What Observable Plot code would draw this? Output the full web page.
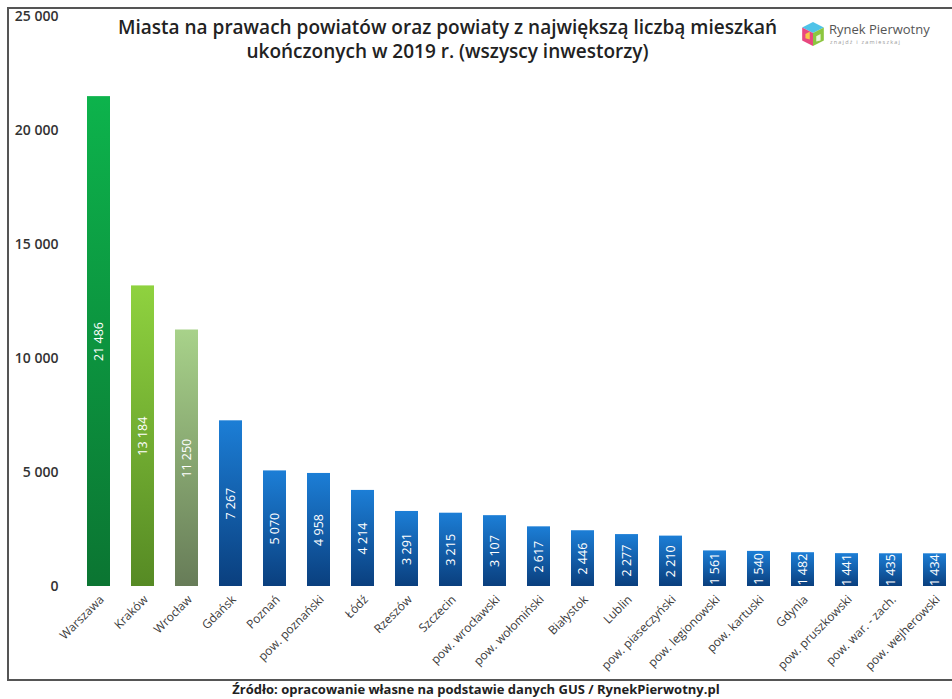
<!DOCTYPE html>
<html lang="pl">
<head>
<meta charset="utf-8">
<script src="https://cdn.jsdelivr.net/npm/d3@7"></script>
<script src="https://cdn.jsdelivr.net/npm/@observablehq/plot@0.6"></script>
<style>
  html, body { margin: 0; padding: 0; background: #fff; overflow: hidden; }
  #wrap { position: relative; width: 952px; height: 699px; font-family: "Open Sans", sans-serif; }
  #wrap svg.chart { position: absolute; left: 0; top: 0; }
  #border { position: absolute; left: 7px; top: 7px; width: 960px; height: 674px; border: 2px solid #555; border-right: none; box-sizing: border-box; }
  .title { position: absolute; left: 0; width: 895px; text-align: center; font-size: 19px; font-weight: 600; line-height: 24px; color: #222; white-space: nowrap; }
  #title1 { top: 15px; }
  #title2 { top: 39px; }
  #caption { position: absolute; left: 0; top: 681px; width: 952px; text-align: center; font-size: 13px; font-weight: 700; line-height: 17px; color: #222; }
  #logo { position: absolute; left: 801px; top: 20px; width: 150px; height: 30px; }
  #logo .name { position: absolute; left: 28px; top: 0px; font-size: 13px; color: #555; white-space: nowrap; }
  #logo .sub { position: absolute; left: 29px; top: 18px; font-size: 5.5px; color: #999; letter-spacing: 1.2px; white-space: nowrap; }
</style>
</head>
<body>
<div id="wrap">
  <div id="border"></div>
  <div class="title" id="title1">Miasta na prawach powiatów oraz powiaty z największą liczbą mieszkań</div>
  <div class="title" id="title2">ukończonych w 2019 r. (wszyscy inwestorzy)</div>
  <div id="logo">
    <svg width="24" height="26" viewBox="0 0 22 24" style="position:absolute;left:0;top:1px">
      <polygon points="11,1 21,6 11,11 1,6" fill="#4fc3e8"/>
      <polygon points="1,6 11,11 11,23 1,18" fill="#e8487f"/>
      <polygon points="11,11 21,6 21,18 11,23" fill="#8cc63f"/>
      <polygon points="4,12 8,10 8,17 4,16" fill="#f7c948"/>
      <polygon points="14,14 18,12 18,18 14,19" fill="#ffffff" opacity="0.8"/>
    </svg>
    <div class="name">Rynek Pierwotny</div>
    <div class="sub">znajdź i zamieszkaj</div>
  </div>
  <div id="caption">Źródło: opracowanie własne na podstawie danych GUS / RynekPierwotny.pl</div>
</div>
<script>
// ---- data ----
const categories = ["Warszawa", "Kraków", "Wrocław", "Gdańsk", "Poznań", "pow. poznański", "Łódź", "Rzeszów", "Szczecin", "pow. wrocławski", "pow. wołomiński", "Białystok", "Lublin", "pow. piaseczyński", "pow. legionowski", "pow. kartuski", "Gdynia", "pow. pruszkowski", "pow. war. - zach.", "pow. wejherowski"];
const values = [21486, 13184, 11250, 7267, 5070, 4958, 4214, 3291, 3215, 3107, 2617, 2446, 2277, 2210, 1561, 1540, 1482, 1441, 1435, 1434];
const barGroups = ["g1", "g2", "g3", "blue", "blue", "blue", "blue", "blue", "blue", "blue", "blue", "blue", "blue", "blue", "blue", "blue", "blue", "blue", "blue", "blue"];
const yTicks = [0, 5000, 10000, 15000, 20000, 25000];

const gradients = {
  g1: ["#0db34c", "#0b7532"],
  g2: ["#8fd23f", "#568a24"],
  g3: ["#a8d28a", "#677c58"],
  blue: ["#1c7ed6", "#0a3f7e"]
};

const locale = d3.formatLocale({decimal: ",", thousands: " ", grouping: [3], currency: ["", " zł"]});
const fmt = locale.format(",d");

const data = categories.map((name, i) => ({name, value: values[i], grad: barGroups[i]}));

const chart = Plot.plot({
  width: 952,
  height: 699,
  marginTop: 16,
  marginBottom: 113,
  marginLeft: 62,
  marginRight: 0,
  style: {fontFamily: "Open Sans, sans-serif", background: "transparent", overflow: "visible"},
  x: {domain: categories, range: [74.4, 958.6], paddingInner: 0.48, paddingOuter: 0.24, axis: null},
  y: {domain: [0, 25000], axis: null},
  color: {type: "identity"},
  marks: [
    Plot.axisY({ticks: yTicks, tickFormat: fmt, tickSize: 0, tickPadding: 4, fontSize: 14, fontWeight: 600, fill: "#333", label: null}),
    Plot.barY(data, {x: "name", y: "value", fill: d => `url(#grad-${d.grad})`}),
    Plot.text(data, {x: "name", y: d => d.value / 2, text: d => fmt(d.value), rotate: -90, fill: "white", fontSize: 12.5}),
    Plot.text(data, {x: "name", y: () => 0, text: "name", rotate: -45, textAnchor: "end", dx: 3, dy: 11, fill: "#3a3a3a", fontSize: 12})
  ]
});
chart.classList.add("chart");

const defs = d3.select(chart).insert("defs", ":first-child");
for (const [key, [top, bottom]] of Object.entries(gradients)) {
  const g = defs.append("linearGradient").attr("id", `grad-${key}`).attr("x1", 0).attr("y1", 0).attr("x2", 0).attr("y2", 1);
  g.append("stop").attr("offset", "0%").attr("stop-color", top);
  g.append("stop").attr("offset", "100%").attr("stop-color", bottom);
}

document.getElementById("wrap").insertBefore(chart, document.getElementById("wrap").firstChild);
</script>
</body>
</html>
